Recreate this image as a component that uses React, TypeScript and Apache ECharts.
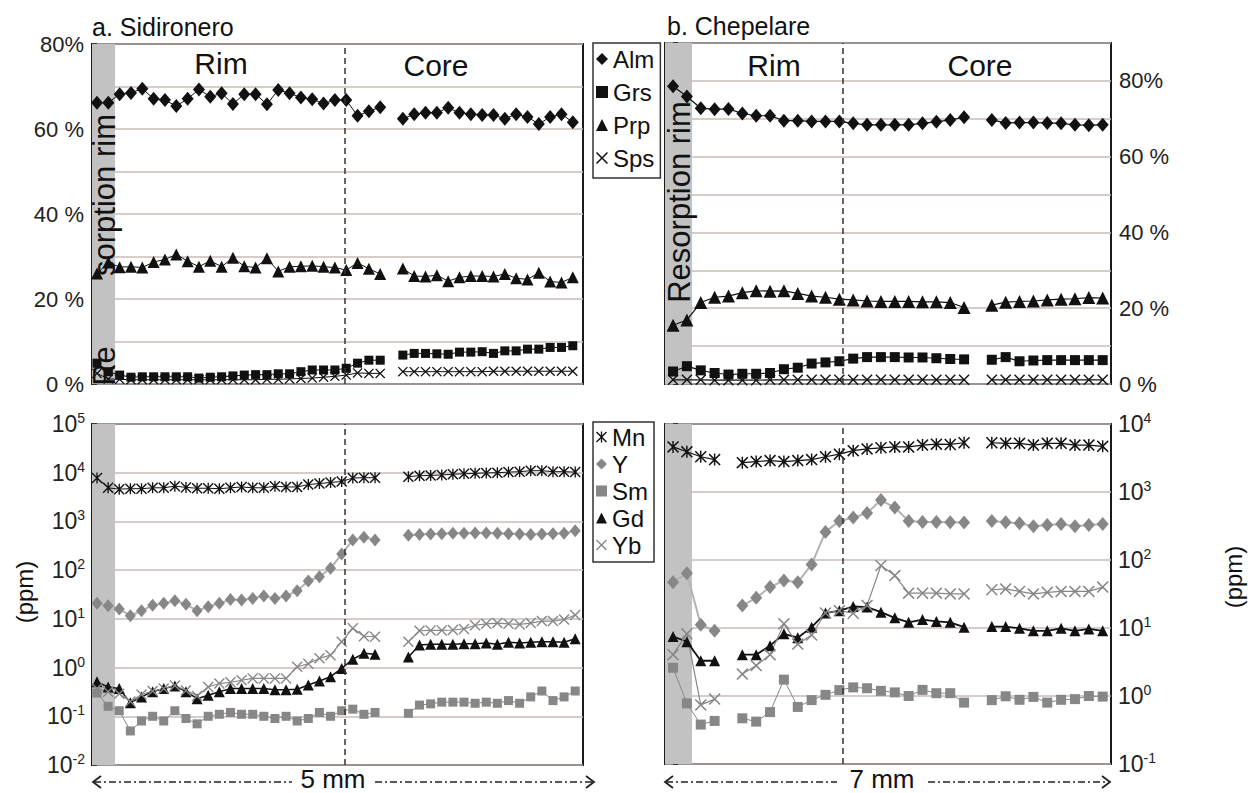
import React, { useEffect, useRef } from "react";
import * as echarts from "echarts";

const FONT = '"Liberation Sans", Arial, Helvetica, sans-serif';

// ---------- a. Sidironero (major elements, %) : rim points 0..25, core points 27..42
const sidAlmRim = [66.2, 66.2, 68.2, 68.5, 69.5, 67.1, 66.8, 65.4, 67.1, 69.3, 67.6, 68.4, 65.9, 68.2, 68.2, 65.8, 69.2, 68.4, 67.4, 67.0, 66.0, 66.8, 66.8, 63.1, 64.2, 65.1];
const sidAlmCore = [62.4, 63.5, 63.8, 63.8, 65.0, 63.8, 63.5, 63.3, 63.3, 62.4, 63.5, 62.8, 61.2, 62.8, 63.5, 61.6];
const sidGrsRim = [4.9, 2.9, 2.1, 1.6, 1.7, 1.7, 1.7, 1.7, 1.7, 1.4, 1.6, 1.7, 1.9, 2.1, 2.2, 2.2, 2.4, 2.4, 2.9, 3.3, 3.3, 3.3, 3.7, 4.9, 5.6, 5.6];
const sidGrsCore = [6.8, 7.2, 7.2, 7.1, 7.0, 7.5, 7.5, 7.6, 7.2, 7.8, 7.8, 8.2, 8.2, 8.6, 8.6, 9.0];
const sidPrpRim = [26.0, 28.6, 27.5, 27.6, 27.4, 28.7, 29.3, 30.5, 28.9, 27.6, 29.0, 27.6, 29.7, 27.7, 27.4, 29.6, 26.5, 27.6, 27.7, 27.8, 27.6, 27.4, 26.8, 28.5, 27.1, 25.9];
const sidPrpCore = [27.2, 25.4, 25.3, 25.6, 24.2, 25.1, 25.4, 25.4, 25.3, 25.9, 24.9, 24.6, 26.2, 24.1, 23.9, 25.1];
const sidSpsRim = [2.5, 1.2, 1.1, 1.0, 1.0, 1.0, 1.0, 1.0, 1.0, 1.0, 1.0, 1.0, 1.0, 1.0, 1.0, 1.1, 1.1, 1.2, 1.3, 1.4, 1.6, 1.8, 2.1, 2.6, 2.5, 2.5];
const sidSpsCore = [2.9, 2.9, 2.9, 2.9, 2.9, 2.9, 2.9, 2.9, 3.0, 3.0, 3.0, 3.0, 3.0, 3.0, 3.0, 3.0];

// ---------- a. Sidironero (trace elements, ppm) : rim 0..25, core 28..43
const sidMnRim = [7800, 4900, 4600, 4700, 4700, 4900, 4900, 5300, 5000, 4800, 4800, 4700, 4900, 5100, 4900, 4900, 5300, 5100, 5100, 5700, 6000, 6300, 6600, 7800, 7900, 7900];
const sidMnCore = [8300, 8700, 8800, 9000, 9300, 9500, 9700, 9900, 10000, 10300, 10500, 11000, 11000, 10500, 10500, 10300];
const sidYRim = [20.8, 18.6, 15.9, 11.6, 14.7, 19, 20.8, 23.5, 19.9, 14.7, 17.8, 20.8, 25, 24.3, 26.3, 29.4, 26.3, 29.4, 37.8, 60, 73, 109, 214, 417, 472, 417];
const sidYCore = [520, 540, 550, 560, 570, 570, 580, 580, 570, 560, 550, 540, 550, 560, 570, 640];
const sidSmRim = [0.3, 0.16, 0.13, 0.05, 0.08, 0.1, 0.08, 0.13, 0.09, 0.07, 0.1, 0.11, 0.12, 0.11, 0.11, 0.1, 0.09, 0.1, 0.08, 0.09, 0.12, 0.1, 0.13, 0.14, 0.11, 0.12];
const sidSmCore = [0.115, 0.17, 0.18, 0.195, 0.195, 0.195, 0.185, 0.195, 0.185, 0.21, 0.185, 0.25, 0.33, 0.21, 0.25, 0.33];
const sidGdRim = [0.51, 0.4, 0.37, 0.19, 0.25, 0.32, 0.37, 0.42, 0.32, 0.23, 0.27, 0.32, 0.37, 0.37, 0.37, 0.37, 0.35, 0.35, 0.36, 0.44, 0.53, 0.65, 0.96, 1.48, 1.96, 1.87];
const sidGdCore = [1.65, 2.9, 3.0, 3.0, 3.0, 3.1, 3.1, 3.2, 3.0, 3.3, 3.2, 3.3, 3.4, 3.4, 3.3, 3.9];
const sidYbRim = [0.37, 0.32, 0.29, 0.2, 0.28, 0.33, 0.37, 0.43, 0.34, 0.26, 0.4, 0.47, 0.5, 0.55, 0.6, 0.6, 0.6, 0.6, 1.04, 1.2, 1.55, 1.8, 3.4, 6.4, 4.4, 4.3];
const sidYbCore = [3.4, 5.7, 5.8, 5.8, 5.9, 6.2, 7.4, 7.9, 8.2, 7.9, 7.7, 8.2, 9.0, 9.0, 9.7, 12];

// ---------- b. Chepelare (major elements, %) : rim 0..21, core 23..31
const chpAlmRim = [78.6, 75.9, 72.8, 72.5, 72.6, 71.4, 70.8, 70.8, 69.5, 69.5, 69.3, 69.3, 69.3, 68.8, 68.4, 68.4, 68.4, 68.4, 68.8, 69.2, 69.7, 70.4];
const chpAlmCore = [69.7, 68.9, 69.0, 69.0, 68.9, 68.8, 68.4, 68.3, 68.4];
const chpGrsRim = [3.3, 4.7, 3.6, 2.9, 2.5, 2.7, 2.7, 2.9, 3.9, 4.3, 5.4, 5.7, 6.0, 6.7, 7.1, 7.1, 7.1, 7.0, 7.0, 6.8, 6.6, 6.5];
const chpGrsCore = [6.4, 7.1, 6.0, 6.2, 6.3, 6.3, 6.3, 6.3, 6.3];
const chpPrpRim = [15.5, 16.9, 21.5, 22.9, 23.2, 24.1, 24.6, 24.5, 24.6, 23.9, 23.2, 22.9, 22.4, 22.2, 21.9, 21.8, 21.8, 21.8, 21.7, 21.7, 21.5, 20.2];
const chpPrpCore = [20.8, 21.6, 21.8, 21.9, 22.2, 22.4, 22.5, 22.8, 22.7];
const chpSpsRim = [1.1, 1.1, 1.1, 1.0, 1.0, 1.0, 1.0, 1.1, 1.1, 1.1, 1.1, 1.1, 1.1, 1.1, 1.1, 1.1, 1.1, 1.1, 1.1, 1.1, 1.1, 1.1];
const chpSpsCore = [1.1, 1.1, 1.1, 1.1, 1.1, 1.1, 1.1, 1.1, 1.1];

// ---------- b. Chepelare (trace elements, ppm) : points 0..3, 5..21, 23..31
const chpMnRim = [4600, 3900, 3300, 3000, null, 2700, 2800, 2900, 2800, 2900, 3000, 3300, 3600, 4050, 4300, 4470, 4600, 4600, 4900, 5050, 5000, 5300];
const chpMnCore = [5300, 5200, 5200, 4900, 5200, 5200, 4900, 4900, 4700];
const chpYRim = [47, 64, 11.2, 9.1, null, 21.4, 27.8, 40, 50, 47, 86, 259, 374, 420, 490, 760, 590, 374, 363, 363, 360, 355];
const chpYCore = [374, 360, 347, 313, 327, 337, 313, 327, 337];
const chpSmRim = [2.6, 0.78, 0.38, 0.43, null, 0.47, 0.42, 0.58, 1.74, 0.69, 0.87, 1.04, 1.22, 1.34, 1.3, 1.19, 1.13, 1.0, 1.23, 1.1, 1.1, 0.8];
const chpSmCore = [0.87, 0.99, 0.88, 0.97, 0.8, 0.88, 0.9, 1.0, 0.98];
const chpGdRim = [7.5, 6.3, 3.3, 3.3, null, 4.05, 4.05, 5.5, 8.2, 7.2, 10.3, 16.6, 18, 20.7, 20.3, 17.1, 14.1, 12.1, 13.3, 12.5, 12.1, 10.3];
const chpGdCore = [10.5, 10.5, 9.9, 9.1, 9.1, 9.9, 9.1, 9.7, 9.1];
const chpYbRim = [4.05, 8.2, 0.74, 0.9, null, 2.1, 2.8, 4.05, 11.5, 5.8, 7.9, 16.6, 18, 16.5, 21.5, 83, 59, 32.5, 32.5, 32.5, 31.7, 31.7];
const chpYbCore = [36.5, 37.6, 34.5, 31.7, 33.5, 34.5, 34.5, 34.5, 40];

// axis tick labels
const majorLabelsPct = [0, 20, 40, 60, 80];

// x extents (in analysis-point index) of each panel, resorption band end and rim/core boundary
const SID_TOP_X = { min: -0.44, max: 42.9, band: 1.59, boundary: 21.9 };
const SID_BOT_X = { min: -0.45, max: 43.7, band: 1.62, boundary: 22.3 };
const CHP_X = { min: -0.58, max: 31.6, band: 1.37, boundary: 12.27 };

const CROSS_D = "M0.9,0 L5,4.1 L9.1,0 L10,0.9 L5.9,5 L10,9.1 L9.1,10 L5,5.9 L0.9,10 L0,9.1 L4.1,5 L0,0.9 Z";
const CROSS = "path://" + CROSS_D;
const STAR = "path://" + CROSS_D + " M4.4,0 L5.6,0 L5.6,10 L4.4,10 Z";

const BLACK = "#111111";
const GREY = "#878787";
const GRID_COLOR = "#c8bcb8";
const BAND = "#c2c2c2";

function join(rim: (number | null)[], gap: number, core: number[]) {
  const out: (number | null)[] = [...rim];
  for (let i = 0; i < gap; i++) out.push(null);
  return out.concat(core);
}

function pctFmt(v: number) {
  if (majorLabelsPct.indexOf(v) < 0) return "";
  return v === 80 ? "80%" : v + " %";
}
function logFmt(v: number) {
  const e = Math.round(Math.log10(v));
  return "{b|10}{s|" + e + "}";
}

export default function App() {
  const ref = useRef<HTMLDivElement>(null);
  useEffect(() => {
    if (!ref.current) return;
    const chart = echarts.init(ref.current, undefined, { renderer: "svg" });
    const series: any[] = [];
    const add = (
      name: string,
      vals: (number | null)[],
      gi: number,
      symbol: string,
      size: any,
      color: string,
      lineColor: string,
      lineWidth: number,
      extra: any = {}
    ) => {
      series.push({
        name,
        type: "line",
        xAxisIndex: gi,
        yAxisIndex: gi,
        data: vals.map((v, i) => [i, v == null ? "-" : v]),
        symbol,
        symbolSize: size,
        showSymbol: true,
        showAllSymbol: true,
        connectNulls: false,
        itemStyle: { color, opacity: 1 },
        lineStyle: { color: lineColor, width: lineWidth },
        emphasis: { disabled: true },
        silent: true,
        ...extra,
      });
    };
    const deco = (x: any) => ({
      markArea: {
        silent: true,
        itemStyle: { color: BAND },
        data: [[{ xAxis: x.min }, { xAxis: x.band }]],
      },
      markLine: {
        silent: true,
        symbol: ["none", "none"],
        label: { show: false },
        lineStyle: { color: "#333", width: 1.5, type: [6, 4] },
        data: [{ xAxis: x.boundary }],
      },
    });

    // grid 0: Sidironero majors
    add("Alm", join(sidAlmRim, 1, sidAlmCore), 0, "diamond", [12, 14], BLACK, BLACK, 1, deco(SID_TOP_X));
    add("Grs", join(sidGrsRim, 1, sidGrsCore), 0, "rect", 9, BLACK, BLACK, 1);
    add("Prp", join(sidPrpRim, 1, sidPrpCore), 0, "triangle", 12, BLACK, BLACK, 1);
    add("Sps", join(sidSpsRim, 1, sidSpsCore), 0, CROSS, 10, BLACK, BLACK, 1);
    // grid 1: Chepelare majors
    add("Alm", join(chpAlmRim, 1, chpAlmCore), 1, "diamond", [12, 14], BLACK, BLACK, 1.2, deco(CHP_X));
    add("Grs", join(chpGrsRim, 1, chpGrsCore), 1, "rect", 10, BLACK, BLACK, 1.2);
    add("Prp", join(chpPrpRim, 1, chpPrpCore), 1, "triangle", 13, BLACK, BLACK, 1.2);
    add("Sps", join(chpSpsRim, 1, chpSpsCore), 1, CROSS, 11, BLACK, BLACK, 1.2);
    // grid 2: Sidironero traces
    add("Mn", join(sidMnRim, 2, sidMnCore), 2, STAR, 11, BLACK, BLACK, 1, deco(SID_BOT_X));
    add("Y", join(sidYRim, 2, sidYCore), 2, "diamond", [11, 13], GREY, "#b3b3b3", 2);
    add("Sm", join(sidSmRim, 2, sidSmCore), 2, "rect", 9, GREY, GREY, 1);
    add("Gd", join(sidGdRim, 2, sidGdCore), 2, "triangle", 11, BLACK, BLACK, 1.5);
    add("Yb", join(sidYbRim, 2, sidYbCore), 2, CROSS, 11, GREY, GREY, 1.2);
    // grid 3: Chepelare traces
    add("Mn", join(chpMnRim, 1, chpMnCore), 3, STAR, 12, BLACK, BLACK, 1.2, deco(CHP_X));
    add("Y", join(chpYRim, 1, chpYCore), 3, "diamond", [12, 14], GREY, "#b3b3b3", 2);
    add("Sm", join(chpSmRim, 1, chpSmCore), 3, "rect", 10, GREY, GREY, 1);
    add("Gd", join(chpGdRim, 1, chpGdCore), 3, "triangle", 11, BLACK, BLACK, 1.8);
    add("Yb", join(chpYbRim, 1, chpYbCore), 3, CROSS, 12, GREY, GREY, 1.2);

    const gridBase = { show: true, borderColor: "#1a1a1a", borderWidth: 2, backgroundColor: "rgba(0,0,0,0)" };
    const xAx = (gi: number, x: any) => ({ gridIndex: gi, type: "value", min: x.min, max: x.max, show: false });
    const tick = { show: true, length: 5, lineStyle: { color: "#1a1a1a", width: 1.5 } };
    const split = { show: true, lineStyle: { color: GRID_COLOR, width: 1.5 } };
    const pctAxis = (gi: number, max: number, pos: string) => ({
      gridIndex: gi,
      type: "value",
      min: 0,
      max,
      interval: 10,
      position: pos,
      axisLine: { show: false },
      axisTick: tick,
      splitLine: split,
      axisLabel: { formatter: pctFmt, fontSize: 22, color: "#222", margin: 8, fontFamily: FONT },
    });
    const logAxis = (gi: number, min: number, max: number, pos: string) => ({
      gridIndex: gi,
      type: "log",
      logBase: 10,
      min,
      max,
      position: pos,
      axisLine: { show: false },
      axisTick: tick,
      splitLine: split,
      axisLabel: {
        formatter: logFmt,
        margin: 7,
        rich: {
          b: { fontSize: 23, color: "#222", fontFamily: FONT, lineHeight: 26 },
          s: { fontSize: 14, color: "#222", fontFamily: FONT, verticalAlign: "top", lineHeight: 15 },
        },
      },
    });

    const legendBase = {
      orient: "vertical",
      selectedMode: false,
      borderColor: "#333",
      borderWidth: 1.5,
      left: 593,
      itemWidth: 12,
      itemHeight: 12,
      textStyle: { fontSize: 24, color: "#111", fontFamily: FONT },
    };

    const txt = (text: string, x: number, y: number, size: number, extra: any = {}) => ({
      type: "text",
      x,
      y,
      z: 100,
      silent: true,
      ...extra,
      style: { text, fontSize: size, fontFamily: FONT, fill: "#111", align: "center", verticalAlign: "middle", ...(extra.style || {}) },
    });
    const dash = (x1: number, x2: number) => ({
      type: "line",
      z: 100,
      silent: true,
      shape: { x1, y1: 782, x2, y2: 782 },
      style: { stroke: "#222", lineWidth: 1.5, lineDash: [7, 3, 2, 3] },
    });
    const chev = (pts: number[][]) => ({
      type: "polyline",
      z: 100,
      silent: true,
      shape: { points: pts },
      style: { stroke: "#222", lineWidth: 1.8, fill: null },
    });
    const ROT = Math.PI / 2;

    const option: any = {
      animation: false,
      textStyle: { fontFamily: FONT },
      grid: [
        { left: 92, top: 44, width: 491, height: 340, ...gridBase },
        { left: 665, top: 43, width: 446, height: 341, ...gridBase },
        { left: 92, top: 424, width: 491, height: 341, ...gridBase },
        { left: 665, top: 424, width: 446, height: 340, ...gridBase },
      ],
      xAxis: [xAx(0, SID_TOP_X), xAx(1, CHP_X), xAx(2, SID_BOT_X), xAx(3, CHP_X)],
      yAxis: [pctAxis(0, 80, "left"), pctAxis(1, 90, "right"), logAxis(2, 0.01, 100000, "left"), logAxis(3, 0.1, 10000, "right")],
      legend: [
        {
          ...legendBase,
          top: 43,
          padding: [4, 6, 8, 3],
          itemGap: 9,
          data: [
            { name: "Alm", icon: "diamond" },
            { name: "Grs", icon: "rect" },
            { name: "Prp", icon: "triangle" },
            { name: "Sps", icon: CROSS },
          ],
        },
        {
          ...legendBase,
          top: 422,
          padding: [3, 6, 5, 3],
          itemGap: 3,
          itemWidth: 11,
          itemHeight: 11,
          data: [
            { name: "Mn", icon: STAR },
            { name: "Y", icon: "diamond" },
            { name: "Sm", icon: "rect" },
            { name: "Gd", icon: "triangle" },
            { name: "Yb", icon: CROSS },
          ],
        },
      ],
      graphic: [
        txt("a. Sidironero", 92, 27, 25, { style: { align: "left" } }),
        txt("b. Chepelare", 667, 26, 25, { style: { align: "left" } }),
        txt("Rim", 221, 63, 30),
        txt("Core", 436, 65, 30),
        txt("Rim", 774, 65, 30),
        txt("Core", 980, 65, 30),
        txt("Re", 104, 366, 31, { rotation: ROT }),
        txt("sorption rim", 104, 195, 31, { rotation: ROT }),
        txt("Resorption rim", 679, 202, 31, { rotation: ROT }),
        txt("(ppm)", 24, 592, 24, { rotation: ROT }),
        txt("(ppm)", 1233, 577, 24, { rotation: ROT }),
        txt("5 mm", 333, 779, 26),
        txt("7 mm", 882, 779, 26),
        dash(94, 292),
        dash(375, 592),
        dash(666, 837),
        dash(928, 1109),
        chev([[101, 776], [93, 782], [101, 788]]),
        chev([[586, 776], [594, 782], [586, 788]]),
        chev([[673, 776], [665, 782], [673, 788]]),
        chev([[1102, 776], [1110, 782], [1102, 788]]),
      ],
      series,
    };
    chart.setOption(option);
    return () => chart.dispose();
  }, []);
  return <div ref={ref} style={{ position: "absolute", left: 0, top: 0, width: 1250, height: 793 }} />;
}
